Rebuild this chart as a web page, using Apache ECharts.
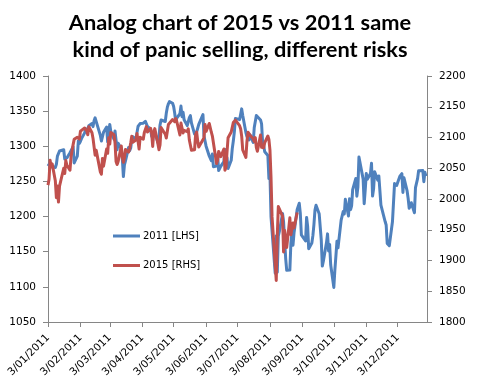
<!DOCTYPE html>
<html><head><meta charset="utf-8">
<script src="https://cdn.jsdelivr.net/npm/echarts@6/dist/echarts.min.js"></script>
<style>html,body{margin:0;padding:0;background:#fff}#c{width:480px;height:392px}</style>
</head><body><div id="c"></div>
<script>
const titleLines = ["Analog chart of 2015 vs 2011 same", "kind of panic selling, different risks"];
const seriesNames = ["2011 [LHS]", "2015 [RHS]"];

// 2011 trading days, day-of-month per month (Jan..Dec)
const tradingDays2011 = [
  [3,4,5,6,7,10,11,12,13,14,18,19,20,21,24,25,26,27,28,31],
  [1,2,3,4,7,8,9,10,11,14,15,16,17,18,22,23,24,25,28],
  [1,2,3,4,7,8,9,10,11,14,15,16,17,18,21,22,23,24,25,28,29,30,31],
  [1,4,5,6,7,8,11,12,13,14,15,18,19,20,21,25,26,27,28,29],
  [2,3,4,5,6,9,10,11,12,13,16,17,18,19,20,23,24,25,26,27,31],
  [1,2,3,6,7,8,9,10,13,14,15,16,17,20,21,22,23,24,27,28,29,30],
  [1,5,6,7,8,11,12,13,14,15,18,19,20,21,22,25,26,27,28,29],
  [1,2,3,4,5,8,9,10,11,12,15,16,17,18,19,22,23,24,25,26,29,30,31],
  [1,2,6,7,8,9,12,13,14,15,16,19,20,21,22,23,26,27,28,29,30],
  [3,4,5,6,7,10,11,12,13,14,17,18,19,20,21,24,25,26,27,28,31],
  [1,2,3,4,7,8,9,10,11,14,15,16,17,18,21,22,23,25,28,29,30],
  [1,2,5,6,7,8,9,12,13,14,15,16,19,20,21,22,23,27,28,29,30]
];

// 2011 series (left axis)
const values2011 = [
  1271.87,1270.20,1276.56,1273.85,1271.50,1269.75,1274.48,1285.96,1283.76,1293.24,1295.02,1281.92,1280.26,1283.35,1290.84,1291.18,1296.63,1299.54,1276.34,1286.12,
  1307.59,1304.03,1307.10,1310.87,1319.05,1324.57,1320.88,1321.87,1329.15,1332.32,1328.01,1336.32,1340.43,1343.01,1315.44,1307.40,1306.10,1319.88,1327.22,
  1306.33,1308.44,1330.97,1321.15,1310.13,1321.82,1320.02,1295.11,1304.28,1296.39,1281.87,1256.88,1273.72,1279.21,1298.38,1293.77,1297.54,1309.66,1313.80,1310.19,1319.44,1328.26,1325.83,
  1332.41,1332.87,1332.63,1335.54,1333.51,1328.17,1324.46,1314.16,1314.41,1314.52,1319.68,1305.14,1312.62,1330.36,1337.38,1335.25,1347.24,1355.66,1360.48,1363.61,
  1361.22,1356.62,1347.32,1335.10,1340.20,1346.29,1357.16,1342.08,1348.65,1337.77,1329.47,1328.98,1340.68,1343.60,1333.27,1317.37,1316.28,1320.47,1325.69,1331.10,1345.20,
  1314.55,1312.94,1300.16,1286.17,1284.94,1279.56,1289.00,1270.98,1271.83,1287.87,1265.42,1267.64,1271.50,1278.36,1295.52,1287.14,1283.50,1268.45,1280.10,1296.67,1307.41,1320.64,
  1339.67,1337.88,1339.22,1353.22,1343.80,1319.49,1313.64,1317.72,1308.87,1316.14,1305.44,1326.73,1325.84,1343.80,1345.02,1337.43,1331.94,1304.89,1300.67,1292.28,
  1286.94,1254.05,1260.34,1200.07,1199.38,1119.46,1172.53,1120.76,1172.64,1178.81,1204.49,1192.76,1193.89,1140.65,1123.53,1123.82,1162.35,1177.60,1159.27,1176.80,1210.08,1212.92,1218.89,
  1204.42,1173.97,1165.24,1198.62,1185.90,1154.23,1162.27,1172.87,1188.68,1209.11,1216.01,1204.09,1202.09,1166.76,1129.56,1136.43,1162.95,1175.38,1151.06,1160.40,1131.42,
  1099.23,1123.95,1144.03,1164.97,1155.46,1194.89,1195.54,1207.25,1203.66,1224.58,1200.86,1225.38,1209.88,1215.39,1238.25,1254.19,1229.05,1242.00,1284.59,1285.09,1253.30,
  1218.28,1237.90,1261.15,1253.23,1261.12,1275.92,1229.10,1239.70,1263.85,1251.78,1257.81,1236.91,1216.13,1215.65,1192.98,1188.04,1161.79,1158.67,1192.55,1195.19,1246.96,
  1244.58,1244.28,1257.08,1258.47,1261.01,1234.35,1255.19,1236.47,1225.73,1211.82,1215.75,1219.66,1205.35,1241.30,1243.72,1254.00,1265.33,1265.43,1249.64,1263.02,1257.60
];

// 2015 series (right axis), aligned to the 2011 trading days from the start
const values2015 = [
  2022.55,2032.12,2063.15,2051.82,2057.09,2029.55,2002.16,2021.25,1994.99,
  2020.85,2050.03,2041.51,2062.52,2055.47,2046.74,2068.59,2068.53,2088.48,2096.99,2100.34,2099.68,2097.45,2110.30,2109.66,2115.48,2113.86,2110.74,2104.50,
  2117.39,2107.78,2098.53,2101.04,2071.26,2079.43,2044.16,2040.24,2065.95,2053.40,2081.19,2074.28,2099.50,2089.27,2108.10,2104.42,2091.50,2061.05,2056.15,2061.02,2086.24,2067.89,
  2059.69,2066.96,2080.62,2076.33,2081.90,2091.18,2102.06,2092.43,2095.84,2106.63,2104.99,2081.18,2100.40,2097.29,2107.96,2112.93,2117.69,2108.92,2114.76,2106.85,2085.51,
  2108.29,2114.49,2089.46,2080.15,2088.00,2116.10,2105.33,2099.12,2098.48,2121.10,2122.73,2129.20,2127.83,2125.85,2130.82,2126.06,2104.20,2123.48,2120.79,2107.39,
  2111.73,2109.60,2114.07,2095.84,2092.83,2079.28,2080.15,2105.20,2108.86,2094.11,2084.43,2096.29,2100.44,2121.24,2109.99,2122.85,2124.20,2108.58,2102.31,2101.49,2057.64,2063.11,
  2077.42,2076.78,2068.76,2081.34,2046.68,2051.31,2076.62,2099.60,2108.95,2107.40,2124.29,2126.64,2128.28,2119.21,2114.15,2102.15,2079.65,2067.64,2093.25,2108.57,2108.63,2103.84,
  2098.04,2093.32,2099.84,2083.56,2077.57,2104.18,2084.07,2086.05,2083.39,2091.54,2102.44,2096.92,2079.61,2035.73,1970.89,1893.21,1867.61,1940.51,1987.66,1988.87,1972.18,
  1913.85,1948.86,1951.13,1921.22,1969.41,1942.04,1952.29,1961.05,1953.03,1978.09
];

const xTickLabels = ["3/01/2011","3/02/2011","3/03/2011","3/04/2011","3/05/2011","3/06/2011","3/07/2011","3/08/2011","3/09/2011","3/10/2011","3/11/2011","3/12/2011"];
const leftAxis = {min: 1050, max: 1400, interval: 50};
const rightAxis = {min: 1800, max: 2200, interval: 50};

// build dates (in days, numeric)
const DAY = 86400000;
const toDay = (y, m, d) => Date.UTC(y, m, d) / DAY;
const dates = [];
tradingDays2011.forEach((days, m) => days.forEach(d => dates.push(toDay(2011, m, d))));
const tickValues = xTickLabels.map(s => { const p = s.split('/'); return toDay(+p[2], +p[1] - 1, +p[0]); });
const labelFor = v => { const i = tickValues.findIndex(t => Math.abs(t - v) < 0.01); return i >= 0 ? xTickLabels[i] : ''; };

const data2011 = values2011.map((v, i) => [dates[i], v]);
const data2015 = values2015.map((v, i) => [dates[i], v]);

const axisFont = {fontFamily: 'DejaVu Sans', fontSize: 10.5, color: '#000'};
const axisLineStyle = {color: '#868686', width: 1};

const chart = echarts.init(document.getElementById('c'), null, {renderer: 'canvas'});
chart.setOption({
  animation: false,
  backgroundColor: '#fff',
  title: {
    text: titleLines.join('\n'),
    left: 'center',
    top: 5,
    textStyle: {fontFamily: 'Lato', fontWeight: 'bold', fontSize: 21.8, lineHeight: 26.5, color: '#000'}
  },
  legend: {
    orient: 'vertical',
    left: 113,
    top: 231,
    padding: 0,
    itemWidth: 27,
    itemHeight: 3,
    itemGap: 19.5,
    icon: 'rect',
    textStyle: {fontFamily: 'DejaVu Sans', fontSize: 10, color: '#000', padding: [0, 0, 0, -2]},
    data: seriesNames
  },
  grid: {left: 48, right: 53, top: 76, bottom: 70, containLabel: false},
  xAxis: {
    type: 'value',
    min: dates[0],
    max: toDay(2011, 11, 31),
    axisLine: {lineStyle: axisLineStyle},
    axisTick: {show: true, inside: false, length: 5, lineStyle: axisLineStyle, customValues: tickValues},
    axisLabel: {
      ...axisFont,
      rotate: 45,
      margin: 14,
      customValues: tickValues,
      formatter: v => labelFor(v),
      hideOverlap: false
    },
    splitLine: {show: false}
  },
  yAxis: [
    {
      type: 'value', position: 'left',
      min: leftAxis.min, max: leftAxis.max, interval: leftAxis.interval,
      axisLine: {show: true, lineStyle: axisLineStyle},
      axisTick: {show: true, inside: false, length: 5, lineStyle: axisLineStyle},
      axisLabel: {...axisFont, margin: 12, formatter: v => String(v)},
      splitLine: {show: false}
    },
    {
      type: 'value', position: 'right',
      min: rightAxis.min, max: rightAxis.max, interval: rightAxis.interval,
      axisLine: {show: true, lineStyle: axisLineStyle},
      axisTick: {show: true, inside: false, length: 5, lineStyle: axisLineStyle},
      axisLabel: {...axisFont, margin: 12, formatter: v => String(v)},
      splitLine: {show: false}
    }
  ],
  series: [
    {
      name: seriesNames[0], type: 'line', yAxisIndex: 0, data: data2011,
      showSymbol: false, symbol: 'none',
      lineStyle: {color: '#4F81BD', width: 3, join: 'round'},
      itemStyle: {color: '#4F81BD'}
    },
    {
      name: seriesNames[1], type: 'line', yAxisIndex: 1, data: data2015,
      showSymbol: false, symbol: 'none',
      lineStyle: {color: '#C0504D', width: 3, join: 'round'},
      itemStyle: {color: '#C0504D'}
    }
  ]
});
</script>
</body></html>
